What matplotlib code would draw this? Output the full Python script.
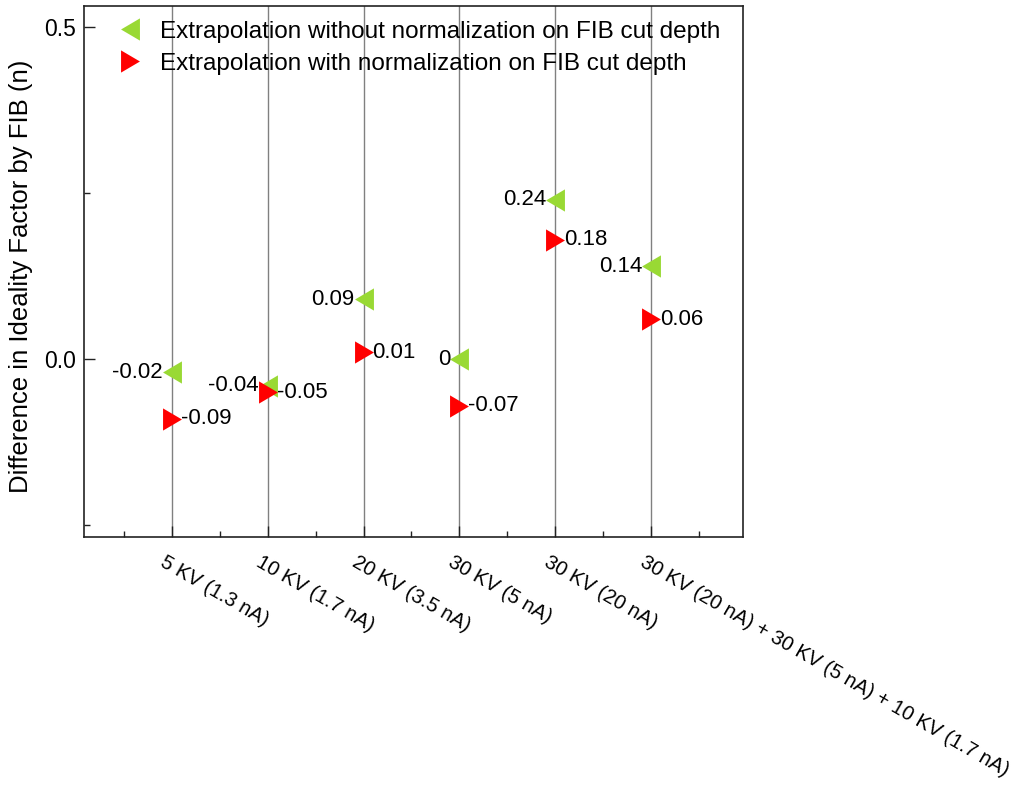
import matplotlib
matplotlib.use("Agg")
import matplotlib.pyplot as plt
import matplotlib.transforms as mtransforms
from matplotlib.ticker import FixedLocator, MultipleLocator

plt.rcParams['font.family'] = ['Liberation Sans', 'DejaVu Sans']

categories = ["5 KV (1.3 nA)", "10 KV (1.7 nA)", "20 KV (3.5 nA)", "30 KV (5 nA)",
              "30 KV (20 nA)", "30 KV (20 nA) + 30 KV (5 nA) + 10 KV (1.7 nA)"]
without_norm = [-0.02, -0.04, 0.09, 0.0, 0.24, 0.14]
with_norm = [-0.09, -0.05, 0.01, -0.07, 0.18, 0.06]
without_labels = ["-0.02", "-0.04", "0.09", "0", "0.24", "0.14"]
with_labels = ["-0.09", "-0.05", "0.01", "-0.07", "0.18", "0.06"]

green = '#99D934'
red = '#FF0000'

left_tri = [(0.85, 1.0), (0.85, -1.0), (-0.85, 0.0), (0.85, 1.0)]
right_tri = [(-0.85, 1.0), (-0.85, -1.0), (0.85, 0.0), (-0.85, 1.0)]

fig = plt.figure(figsize=(10.21, 7.86), dpi=100)
ax = fig.add_axes([0.0823, 0.3168, 0.6455, 0.6756])

xs = list(range(1, len(categories) + 1))
for x in xs:
    ax.axvline(x, color='#808080', lw=1.0, zorder=1)

ax.plot(xs, without_norm, linestyle='none', marker=left_tri, markersize=16, color=green,
        markeredgewidth=0, zorder=3, label='Extrapolation without normalization on FIB cut depth')
ax.plot(xs, with_norm, linestyle='none', marker=right_tri, markersize=16, color=red,
        markeredgewidth=0, zorder=3, label='Extrapolation with normalization on FIB cut depth')

for x, v, t in zip(xs, without_norm, without_labels):
    ax.annotate(t, (x, v), xytext=(-6.5, 0), textcoords='offset points',
                ha='right', va='center', fontsize=16, zorder=4)
for x, v, t in zip(xs, with_norm, with_labels):
    ax.annotate(t, (x, v), xytext=(6.5, 0), textcoords='offset points',
                ha='left', va='center', fontsize=16, zorder=4)

ax.set_xlim(0.086, 6.957)
ax.set_ylim(-0.268, 0.532)

ax.xaxis.set_major_locator(FixedLocator(xs))
ax.xaxis.set_minor_locator(FixedLocator([x - 0.5 for x in xs] + [xs[-1] + 0.5]))

ax.yaxis.set_major_locator(MultipleLocator(0.5))
ax.yaxis.set_minor_locator(MultipleLocator(0.25))
ax.set_yticks([0.0, 0.5])
ax.set_yticklabels(['0.0', '0.5'], fontsize=16.5)

ax.tick_params(axis='both', which='major', direction='in', length=8, width=1.0,
               top=False, right=False, color='#222222')
ax.tick_params(axis='both', which='minor', direction='in', length=4, width=1.0,
               top=False, right=False, color='#222222')
ax.tick_params(axis='x', which='major', pad=13)
ax.tick_params(axis='y', which='major', pad=6)

ax.set_xticks(xs)
ax.set_xticklabels(categories, rotation=-30, ha='left', va='top',
                   rotation_mode='anchor', fontsize=14.6)
offset = mtransforms.ScaledTranslation(-0.05, 0.03, fig.dpi_scale_trans)
for lbl in ax.get_xticklabels():
    lbl.set_transform(lbl.get_transform() + offset)

for s in ax.spines.values():
    s.set_linewidth(1.2)
    s.set_color('#222222')

ax.set_ylabel('Difference in Ideality Factor by FIB (n)', fontsize=18.5)
ax.yaxis.set_label_coords(-0.077, 0.49)

leg = ax.legend(loc='upper left', bbox_to_anchor=(0.048, 0.972), frameon=False,
                fontsize=17.5, handlelength=1.2, handletextpad=0.64,
                labelspacing=0.4, borderpad=0, borderaxespad=0, markerscale=1.0)

fig.savefig('out.png', dpi=100)
